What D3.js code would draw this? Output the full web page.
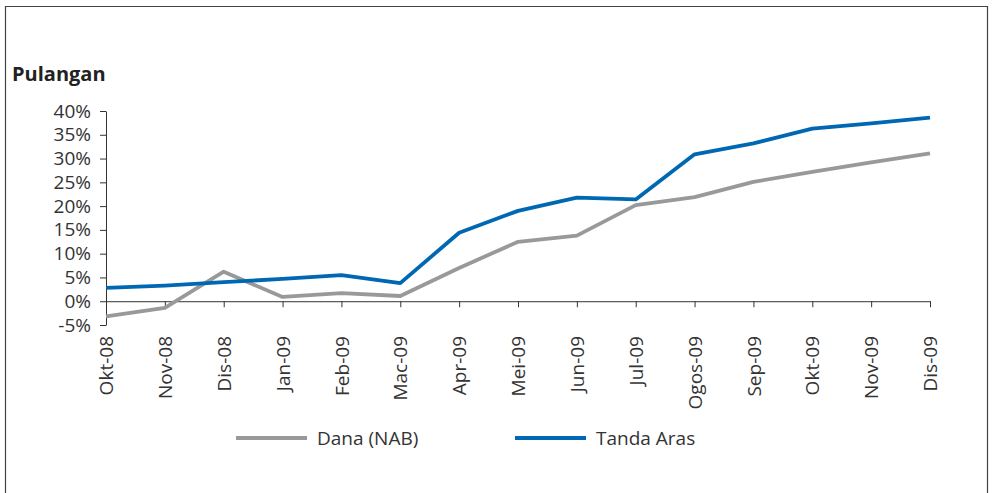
<!DOCTYPE html>
<html>
<head>
<meta charset="utf-8">
<script src="https://cdn.jsdelivr.net/npm/d3@7"></script>
<style>
  html, body { margin: 0; padding: 0; background: #fff; }
  svg { display: block; font-family: "Open Sans", "Noto Sans", sans-serif; }
</style>
</head>
<body>
<svg id="chart" width="993" height="493"></svg>
<script>
// Monthly return (%) of the fund against its benchmark
const months = ["Okt-08", "Nov-08", "Dis-08", "Jan-09", "Feb-09", "Mac-09", "Apr-09",
                "Mei-09", "Jun-09", "Jul-09", "Ogos-09", "Sep-09", "Okt-09", "Nov-09", "Dis-09"];
const danaNAB   = [-3.2, -1.4, 6.2, 0.9, 1.7, 1.1, 7.0, 12.5, 13.8, 20.2, 21.9, 25.1, 27.2, 29.2, 31.1];
const tandaAras = [2.8, 3.3, 4.0, 4.7, 5.5, 3.8, 14.4, 19.0, 21.8, 21.4, 30.9, 33.2, 36.3, 37.4, 38.6];
const yTicks = [-5, 0, 5, 10, 15, 20, 25, 30, 35, 40];

const series = [
  { name: "Dana (NAB)", values: danaNAB, color: "#999999" },
  { name: "Tanda Aras", values: tandaAras, color: "#0068b3" }
];

const svg = d3.select("#chart");

// outer frame (open at the bottom)
svg.append("path")
  .attr("d", "M5.5,493 V6.5 H987.5 V493")
  .attr("fill", "none")
  .attr("stroke", "#444")
  .attr("stroke-width", 1.2);

svg.append("text")
  .attr("x", 12).attr("y", 81)
  .attr("font-size", 20).attr("font-weight", "bold")
  .attr("fill", "#222")
  .text("Pulangan");

const x = d3.scalePoint().domain(months).range([106, 930]);
const y = d3.scaleLinear().domain([-5, 40]).range([325, 111]);

// y axis
const yAxis = svg.append("g")
  .attr("transform", "translate(106,0)")
  .call(d3.axisLeft(y).tickValues(yTicks).tickFormat(d => d + "%").tickSize(6).tickSizeOuter(0));
yAxis.select(".domain").attr("stroke", "#333");
yAxis.selectAll(".tick line").attr("stroke", "#333");
yAxis.selectAll(".tick text")
  .attr("x", -15)
  .attr("font-size", 19)
  .attr("font-family", "Open Sans, sans-serif")
  .attr("fill", "#333");

// x axis along the zero line
const xAxis = svg.append("g")
  .attr("transform", `translate(0,${y(0)})`)
  .call(d3.axisBottom(x).tickSize(6).tickSizeOuter(0));
xAxis.select(".domain").attr("stroke", "#333");
xAxis.selectAll(".tick line").attr("stroke", "#333");
xAxis.selectAll(".tick text")
  .attr("font-size", 19)
  .attr("font-family", "Open Sans, sans-serif")
  .attr("fill", "#333")
  .attr("text-anchor", "end")
  .attr("dy", "0.35em")
  .attr("transform", `translate(0,${325 - y(0) + 11}) rotate(-90)`)
  .attr("x", 0).attr("y", 0);

// series lines
const line = d3.line()
  .x((d, i) => x(months[i]))
  .y(d => y(d));

svg.selectAll("path.series")
  .data(series)
  .join("path")
  .attr("class", "series")
  .attr("fill", "none")
  .attr("stroke", d => d.color)
  .attr("stroke-width", 3.8)
  .attr("stroke-linejoin", "round")
  .attr("d", d => line(d.values));

// legend
const legendX = [236, 515];
const legend = svg.selectAll("g.legend")
  .data(series)
  .join("g")
  .attr("class", "legend")
  .attr("transform", (d, i) => `translate(${legendX[i]},438)`);
legend.append("line")
  .attr("x1", 0).attr("x2", 71)
  .attr("stroke", d => d.color)
  .attr("stroke-width", 3.8);
legend.append("text")
  .attr("x", 81).attr("y", 0)
  .attr("dy", "0.35em")
  .attr("font-size", 19)
  .attr("fill", "#333")
  .text(d => d.name);
</script>
</body>
</html>
